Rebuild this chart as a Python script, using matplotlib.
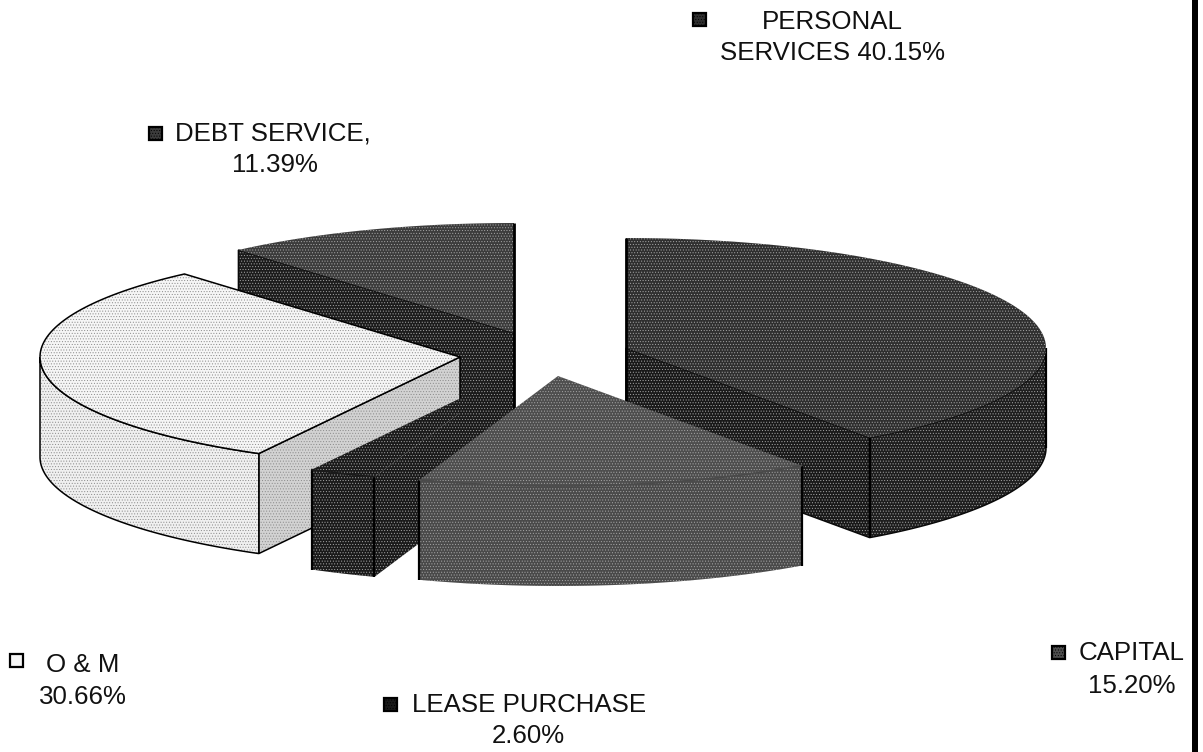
import numpy as np
import matplotlib
matplotlib.use("Agg")
import matplotlib.pyplot as plt
from matplotlib.patches import Polygon, Rectangle

plt.rcParams['font.family'] = ['Liberation Sans', 'DejaVu Sans']
plt.rcParams['hatch.linewidth'] = 0.4

categories = ["PERSONAL SERVICES", "CAPITAL", "LEASE PURCHASE", "O & M", "DEBT SERVICE"]
shares = [40.15, 15.20, 2.60, 30.66, 11.39]

# Exploded slice apex positions in pixel space
apex_x = [626, 558, 513, 460, 514]
apex_y = [348, 376, 373, 357, 333]
top_colors = ["#2f2f2f", "#4e4e4e", "#1a1a1a", "#f6f6f6", "#3c3c3c"]
side_colors = ["#1e1e1e", "#4a4a4a", "#1a1a1a", "#f0f0f0", "#1c1c1c"]
cut_colors = ["#191919", "#4a4a4a", "#1a1a1a", "#d2d2d2", "#1c1c1c"]
outline_colors = ["#0a0a0a", None, None, "black", "#0a0a0a"]
draw_order = [4, 0, 3, 2, 1]

RX, RY, DEPTH = 420, 110, 100

# Legend blocks: marker position, then each text line with centre and baseline height
legend_text = [
    ((699, 19), [("PERSONAL", 832, 22), ("SERVICES 40.15%", 832, 53)], 0),
    ((1058, 652), [("CAPITAL", 1132, 653), ("15.20%", 1132, 686)], 1),
    ((390, 704), [("LEASE PURCHASE", 529, 705), ("2.60%", 528, 736)], 2),
    ((16, 660), [("O & M", 83, 665), ("30.66%", 83, 697)], 3),
    ((155, 133), [("DEBT SERVICE,", 273, 133), ("11.39%", 275, 165)], 4),
]


def arc(cx, cy, a0, a1, n=90):
    t = np.radians(np.linspace(a0, a1, n))
    return np.column_stack([cx + RX * np.sin(t), cy - RY * np.cos(t)])


def textured(ax, pts, color, zorder, outline=None):
    """Flat tone with a fine stipple of the opposite brightness, optionally outlined."""
    light = np.mean(matplotlib.colors.to_rgb(color)) > 0.6
    ax.add_patch(Polygon(pts, closed=True, facecolor=color,
                         edgecolor="#8a8a8a" if light else "#a8a8a8",
                         hatch="......", linewidth=0, zorder=zorder))
    if outline:
        ax.add_patch(Polygon(pts, closed=True, fill=False, edgecolor=outline,
                             linewidth=1.1, zorder=zorder, joinstyle="miter"))


fig = plt.figure(figsize=(12.03, 7.52), dpi=100)
ax = fig.add_axes([0, 0, 1, 1])
ax.set_xlim(0, 1203)
ax.set_ylim(752, 0)
ax.axis("off")

edges = np.concatenate([[0], np.cumsum(shares)]) / sum(shares) * 360
z = 2
for i in draw_order:
    a0, a1 = edges[i], edges[i + 1]
    cx, cy = apex_x[i], apex_y[i]
    rim = arc(cx, cy, a0, a1)
    apex = np.array([cx, cy])
    down = np.array([0, DEPTH])
    line = outline_colors[i]
    # Radial cut faces turned towards the viewer
    for a, visible in ((a0, np.sin(np.radians(a0)) < -1e-6),
                       (a1, np.sin(np.radians(a1)) > 1e-6)):
        if visible:
            p = arc(cx, cy, a, a, 1)[0]
            textured(ax, [apex, p, p + down, apex + down], cut_colors[i], z, line)
            z += 1
    # Curved outer wall on the near half of the rim
    lo, hi = max(a0, 90), min(a1, 270)
    if hi > lo:
        wall = arc(cx, cy, lo, hi)
        textured(ax, np.vstack([wall, (wall + down)[::-1]]), side_colors[i], z, line)
        z += 1
        # Heavy vertical edges at the ends of the wall
        if i != 3:
            for end in (wall[0], wall[-1]):
                ax.plot([end[0]] * 2, [end[1], end[1] + DEPTH], color="black",
                        lw=1.6, zorder=z, solid_capstyle="butt")
    textured(ax, np.vstack([apex, rim]), top_colors[i], z,
             "black" if i == 3 else None)
    # Close the seam where an unlined top meets its wall
    if line is None:
        ax.plot(rim[:, 0], rim[:, 1], color=side_colors[i], lw=1.2, zorder=z)
    # Dark back edge on slices that start or end at twelve o'clock
    if np.isclose(a0, 0) or np.isclose(a1, 360):
        top = arc(cx, cy, 0, 0, 1)[0]
        ax.plot([cx, cx], [top[1], cy + DEPTH], color="black", lw=2.0, zorder=z,
                solid_capstyle="butt")
    z += 1

for (mx, my), lines, idx in legend_text:
    ax.add_patch(Rectangle((mx - 6.5, my - 6.5), 13, 13, facecolor=top_colors[idx],
                           edgecolor="black", linewidth=1.6,
                           hatch="......" if idx != 3 else None, zorder=z))
    for txt, tx, ty in lines:
        ax.text(tx, ty, txt, ha="center", va="center", fontsize=18.6,
                color="#111111", zorder=z)

# Heavy rule down the right-hand side of the page
ax.add_patch(Rectangle((1192, 0), 6, 752, facecolor="black", edgecolor="none", zorder=z))

fig.savefig("out.png", dpi=100, facecolor="white")
